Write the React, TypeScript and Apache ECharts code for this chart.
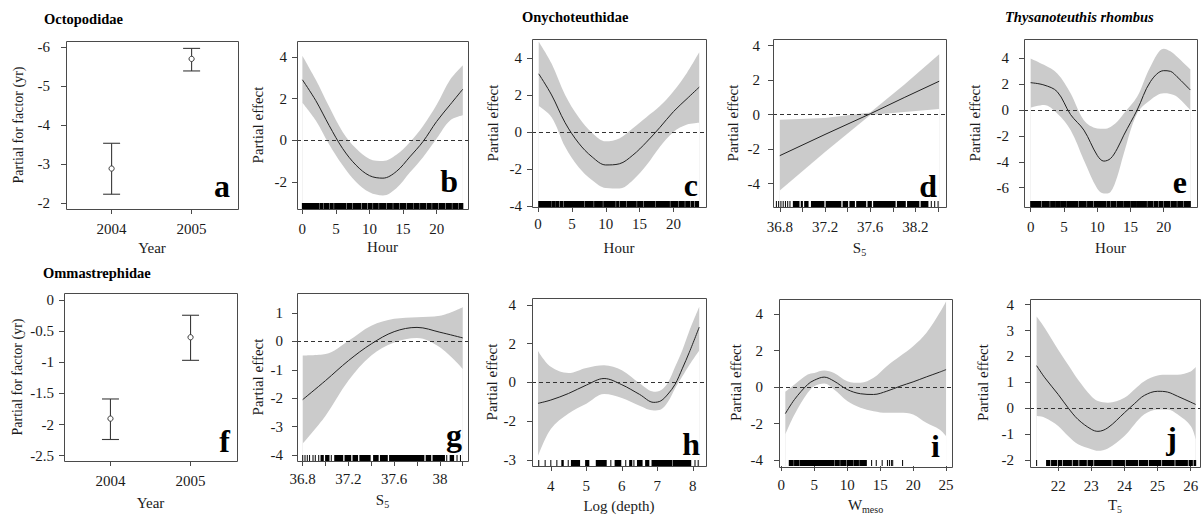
import React, { useEffect, useRef } from 'react';
import * as echarts from 'echarts';

// ---------- DATA ----------
// a: Octopodidae, year factor
const yearsA = [2004, 2005];
const fitA = [-2.88, -5.7];
const loA = [-2.22, -5.39];
const hiA = [-3.53, -5.97];

// f: Ommastrephidae, year factor
const yearsF = [2004, 2005];
const fitF = [-1.905, -0.6];
const loF = [-2.24, -0.97];
const hiF = [-1.59, -0.247];

// b: Octopodidae, hour
const xB = [0, 2, 4, 6, 8, 10, 12, 14, 16, 18, 20, 22, 23.9];
const fitB = [2.9, 1.9, 0.7, -0.4, -1.2, -1.7, -1.82, -1.5, -0.8, -0.05, 0.9, 1.7, 2.45];
const upB = [4.05, 2.9, 1.6, 0.4, -0.4, -0.9, -1.0, -0.7, -0.1, 0.7, 1.7, 2.9, 3.6];
const lowB = [1.8, 0.95, -0.2, -1.2, -2.0, -2.5, -2.65, -2.3, -1.55, -0.8, 0.08, 0.95, 1.2];
const rugB = [[0, 2.4], [2.6, 3.0], [3.2, 3.9], [4.1, 4.6], [4.8, 6.5], [6.7, 7.4], [7.6, 8.7], [8.9, 9.6], [9.8, 10.4], [10.6, 11.3], [11.5, 12.4], [12.6, 13.4], [13.6, 14.4], [14.6, 15.4], [15.6, 16.4], [16.6, 17.4], [17.6, 18.4], [18.6, 19.2], [19.4, 20.2], [20.4, 21.2], [21.4, 22.2], [22.4, 23.2], [23.4, 23.9]];

// c: Onychoteuthidae, hour
const xC = [0.1, 2, 4, 6, 8, 10, 12, 14, 16, 18, 20, 22, 23.8];
const fitC = [3.14, 2.0, 0.5, -0.6, -1.35, -1.78, -1.72, -1.25, -0.55, 0.25, 1.1, 1.8, 2.42];
const upC = [4.87, 3.7, 2.0, 0.8, -0.05, -0.5, -0.35, 0.2, 0.8, 1.4, 2.2, 3.2, 4.3];
const lowC = [1.4, 0.8, -0.8, -1.9, -2.6, -3.02, -3.05, -2.6, -1.8, -0.8, 0.0, 0.4, 0.5];
const rugC = [[0.1, 1.25], [1.4, 1.9], [2.05, 2.55], [2.7, 3.1], [3.3, 3.7], [3.9, 4.35], [4.5, 6.8], [7.0, 8.15], [8.35, 9.5], [9.7, 11.4], [11.6, 11.9], [12.1, 13.0], [13.2, 14.5], [14.7, 15.5], [15.7, 17.2], [17.4, 19.4], [19.6, 20.6], [20.8, 21.6], [21.8, 22.4], [22.6, 23.0], [23.2, 23.7]];

// d: Onychoteuthidae, S5
const xD = [36.8, 37.2, 37.6, 37.9, 38.21];
const fitD = [-2.38, -1.15, 0.05, 0.99, 1.94];
const upD = [-0.3, -0.2, 0.12, 1.73, 3.5];
const lowD = [-4.4, -2.17, -0.02, 0.16, 0.33];
const rugD = [[36.77, 36.77], [36.79, 36.79], [36.81, 36.81], [36.83, 36.83], [36.85, 36.85], [36.87, 36.87], [36.89, 36.89], [36.92, 36.97], [36.99, 37.0], [37.02, 37.05], [37.08, 37.19], [37.21, 37.34], [37.36, 37.4], [37.42, 37.46], [37.48, 37.56], [37.58, 37.61], [37.63, 37.82], [37.84, 37.91], [37.93, 38.03], [38.05, 38.11], [38.14, 38.14], [38.17, 38.17], [38.2, 38.2]];

// e: Thysanoteuthis rhombus, hour
const xE = [0, 2, 4, 6, 8, 10, 11, 12, 13, 14, 16, 18, 20, 21, 22, 24];
const fitE = [2.12, 1.94, 1.42, -0.35, -1.55, -3.5, -3.95, -3.75, -3.0, -1.94, 0.0, 2.2, 3.05, 3.0, 2.58, 1.55];
const upE = [4.0, 3.5, 2.84, 1.3, -0.78, -1.42, -1.45, -1.3, -0.9, -0.26, 1.03, 3.36, 4.75, 4.55, 4.13, 3.15];
const lowE = [0.2, 0.4, -0.26, -1.55, -3.88, -6.07, -6.46, -6.33, -5.17, -3.36, -0.26, 0.78, 1.3, 1.25, 1.03, 0.0];
const rugE = [[0, 1.55], [1.75, 2.8], [3.0, 3.6], [3.75, 4.35], [4.5, 5.35], [5.5, 7.1], [7.3, 8.35], [8.55, 9.35], [9.55, 11.35], [11.55, 11.85], [12.05, 12.85], [13.05, 13.9], [14.05, 14.9], [15.05, 15.9], [16.05, 17.4], [17.6, 18.4], [18.6, 19.15], [19.35, 19.9], [20.1, 20.9], [21.1, 21.9], [22.1, 22.9], [23.1, 24.0]];

// g: Ommastrephidae, S5
const xG = [36.8, 37.0, 37.2, 37.4, 37.6, 37.8, 38.0, 38.2];
const fitG = [-2.05, -1.38, -0.68, -0.09, 0.34, 0.49, 0.32, 0.12];
const upG = [-0.5, -0.45, 0.02, 0.55, 0.79, 0.85, 0.9, 1.2];
const lowG = [-3.6, -2.62, -1.38, -0.5, -0.04, 0.12, -0.21, -0.97];
const rugG = [[36.8, 36.8], [36.82, 36.82], [36.84, 36.84], [36.86, 36.86], [36.89, 36.89], [36.91, 36.91], [36.94, 36.94], [36.96, 36.98], [37.0, 37.03], [37.05, 37.05], [37.08, 37.15], [37.17, 37.22], [37.24, 37.28], [37.3, 37.39], [37.42, 37.46], [37.48, 37.54], [37.56, 37.86], [37.88, 37.92], [37.94, 38.04], [38.06, 38.06], [38.09, 38.12], [38.15, 38.15], [38.18, 38.18]];

// h: Ommastrephidae, log(depth)
const xH = [3.64, 4.0, 4.5, 5.0, 5.5, 6.0, 6.5, 6.9, 7.1, 7.3, 7.5, 7.7, 7.9, 8.18];
const fitH = [-1.08, -0.91, -0.57, -0.14, 0.2, -0.12, -0.62, -1.03, -0.95, -0.6, -0.1, 0.7, 1.55, 2.85];
const upH = [1.62, 0.8, 0.48, 0.74, 0.88, 0.62, -0.05, -0.48, -0.4, 0.0, 0.8, 1.65, 2.65, 3.9];
const lowH = [-3.8, -2.4, -1.6, -1.1, -0.6, -0.8, -1.2, -1.45, -1.4, -1.0, -0.3, 0.3, 0.9, 1.65];
const rugH = [[3.66, 3.66], [3.84, 3.84], [4.0, 4.0], [4.17, 4.17], [4.31, 4.35], [4.49, 4.49], [4.58, 4.81], [4.98, 5.07], [5.28, 5.56], [5.69, 5.69], [5.81, 5.97], [6.11, 6.11], [6.22, 6.28], [6.34, 6.34], [6.44, 6.57], [6.67, 6.76], [6.85, 7.41], [7.45, 7.94], [8.06, 8.06], [8.15, 8.15]];

// i: Ommastrephidae, W_meso
const xI = [0.6, 2, 4, 5, 6.5, 8, 10, 12, 14, 16, 18, 20, 22, 24, 25];
const fitI = [-1.45, -0.67, 0.15, 0.38, 0.55, 0.33, -0.13, -0.36, -0.4, -0.22, 0.05, 0.29, 0.56, 0.82, 0.96];
const upI = [-0.25, 0.15, 0.69, 0.78, 0.91, 0.78, 0.33, 0.24, 0.51, 1.15, 1.69, 2.24, 2.96, 4.05, 4.69];
const lowI = [-2.58, -1.49, -0.31, 0.05, 0.2, -0.13, -0.76, -1.13, -1.31, -1.4, -1.4, -1.49, -1.95, -2.31, -2.67];
const rugI = [[1.2, 1.8], [2.0, 2.7], [2.9, 8.0], [8.2, 8.8], [9.0, 9.8], [10.0, 10.9], [11.1, 11.7], [11.9, 12.9], [13.7, 13.7], [14.4, 14.4], [15.3, 15.3], [16.1, 16.1], [16.4, 16.4], [16.7, 16.7], [16.9, 16.9], [18.4, 18.4]];

// j: Ommastrephidae, T5
const xJ = [21.35, 21.6, 22.0, 22.3, 22.6, 23.0, 23.2, 23.5, 24.0, 24.3, 24.6, 25.0, 25.3, 25.6, 26.0, 26.15];
const fitJ = [1.64, 1.17, 0.53, 0.01, -0.44, -0.82, -0.9, -0.76, -0.18, 0.17, 0.49, 0.65, 0.62, 0.46, 0.23, 0.14];
const upJ = [3.54, 3.09, 2.26, 1.68, 1.1, 0.46, 0.27, 0.21, 0.4, 0.72, 1.04, 1.26, 1.29, 1.29, 1.42, 1.59];
const lowJ = [-0.31, -0.37, -0.69, -1.08, -1.4, -1.59, -1.65, -1.56, -1.08, -0.63, -0.24, -0.05, -0.05, -0.24, -0.69, -1.21];
const rugJ = [[21.35, 21.35], [21.65, 21.75], [21.8, 21.95], [22.0, 22.1], [22.15, 22.4], [22.45, 22.6], [22.65, 22.85], [22.9, 23.05], [23.1, 23.6], [23.65, 24.0], [24.05, 24.4], [24.45, 24.7], [24.75, 25.1], [25.15, 25.5], [25.55, 25.9], [25.95, 26.05], [26.1, 26.15]];

// tick values / labels
const hourTicks = [0, 5, 10, 15, 20];
const yearTicks = [2004, 2005];
const salTicks = [36.8, 37.0, 37.2, 37.4, 37.6, 37.8, 38.0, 38.2];
const salLabelVals = [36.8, 37.2, 37.6, 38.0];
const salLabelsD = ['36.8', '37.2', '37.6', '38.2'];
const salLabelsG = ['36.8', '37.2', '37.6', '38'];
const depthTicks = [4, 5, 6, 7, 8];
const wTicks = [0, 5, 10, 15, 20, 25];
const tTicks = [22, 23, 24, 25, 26];
const yTicksA = [-6, -5, -4, -3, -2];
const yTicksF = [-2.5, -2, -1.5, -1, -0.5, 0];
const yTicksB = [-2, 0, 2, 4];
const yTicks4 = [-4, -2, 0, 2, 4];
const yTicksE = [-6, -4, -2, 0, 2, 4];
const yTicksG = [-4, -3, -2, -1, 0, 1];
const yLabelsH = ['-3', '-2', '0', '2', '4'];
const yTicksJ = [-2, -1, 0, 1, 2, 3, 4];

// ---------- STYLE ----------
const FONT = 'Liberation Serif';
const INK = '#1a1a1a';
const BAND = '#cbcbcb';
const BOX = '#4a4a4a';

const rich = {
  s: { fontFamily: FONT, fontSize: 15, color: INK },
  sub: { fontFamily: FONT, fontSize: 10, color: INK, padding: [9, 0, 0, 0] },
};

const panels: any[] = [
  { key: 'a', grid: [66, 41, 172, 168], x: [2003.43, 2005.58], y: [-6.16, -1.84], inverse: true, xt: yearTicks, yt: yTicksA, xName: 'Year', xGap: 31, yName: 'Partial for factor (yr)', yGap: 41, yNameSize: 14, yMargin: 16, xMargin: 12, kind: 'err', xs: yearsA, fit: fitA, lo: loA, hi: hiA, letter: [230, 202] },
  { key: 'b', grid: [297, 41, 171, 168], x: [-0.8, 24.67], y: [-3.3, 4.76], xt: hourTicks, yt: yTicksB, xName: 'Hour', xGap: 30, yName: 'Partial effect', yGap: 32, yMargin: 10, xMargin: 12, kind: 'gam', xs: xB, fit: fitB, lo: lowB, hi: upB, rug: rugB, letter: [458, 197] },
  { key: 'c', grid: [532, 39, 174, 168], x: [-0.89, 24.8], y: [-4.05, 5.02], xt: hourTicks, yt: yTicks4, xName: 'Hour', xGap: 33, yName: 'Partial effect', yGap: 32, yMargin: 10, xMargin: 9, kind: 'gam', xs: xC, fit: fitC, lo: lowC, hi: upC, rug: rugC, letter: [698, 201] },
  { key: 'd', grid: [773, 39, 173, 168], x: [36.74, 38.27], y: [-5.36, 4.39], xt: salTicks, xlv: salLabelVals, xl: salLabelsD, yt: yTicks4, xName: '{s|S}{sub|5}', xGap: 31, yName: 'Partial effect', yGap: 33, yMargin: 13, xMargin: 12, kind: 'gam', straight: true, xs: xD, fit: fitD, lo: lowD, hi: upD, rug: rugD, letter: [937, 202] },
  { key: 'e', grid: [1024, 39, 173, 168], x: [-1.0, 25.0], y: [-7.5, 5.5], xt: hourTicks, yt: yTicksE, xName: 'Hour', xGap: 33, yName: 'Partial effect', yGap: 42, yMargin: 15, xMargin: 12, kind: 'gam', xs: xE, fit: fitE, lo: lowE, hi: upE, rug: rugE, letter: [1187, 198] },
  { key: 'f', grid: [64, 293, 173, 168], x: [2003.42, 2005.58], y: [-2.585, 0.11], xt: yearTicks, yt: yTicksF, xName: 'Year', xGap: 34, yName: 'Partial for factor (yr)', yGap: 40, yNameSize: 14, yMargin: 10, xMargin: 12, kind: 'err', xs: yearsF, fit: fitF, lo: loF, hi: hiF, letter: [230, 457] },
  { key: 'g', grid: [297, 293, 171, 168], x: [36.75, 38.246], y: [-4.21, 1.7], xt: salTicks, xlv: salLabelVals, xl: salLabelsG, yt: yTicksG, xName: '{s|S}{sub|5}', xGap: 29, yName: 'Partial effect', yGap: 32, yMargin: 14, xMargin: 10, kind: 'gam', xs: xG, fit: fitG, lo: lowG, hi: upG, rug: rugG, letter: [462, 451] },
  { key: 'h', grid: [532, 298, 174, 168], x: [3.47, 8.37], y: [-4.31, 4.35], xt: depthTicks, yt: yTicks4, yl: yLabelsH, xName: 'Log (depth)', xGap: 32, yName: 'Partial effect', yGap: 33, yMargin: 16, xMargin: 12, kind: 'gam', xs: xH, fit: fitH, lo: lowH, hi: upH, rug: rugH, letter: [700, 460] },
  { key: 'i', grid: [779, 299, 173, 168], x: [-0.36, 25.9], y: [-4.31, 4.82], xt: wTicks, yt: yTicks4, xName: '{s|W}{sub|meso}', xGap: 29, yName: 'Partial effect', yGap: 36, yMargin: 16, xMargin: 11, kind: 'gam', xs: xI, fit: fitI, lo: lowI, hi: upI, rug: rugI, letter: [940, 462] },
  { key: 'j', grid: [1030, 299, 170, 168], x: [21.15, 26.28], y: [-2.24, 4.22], xt: tTicks, yt: yTicksJ, xName: '{s|T}{sub|5}', xGap: 29, yName: 'Partial effect', yGap: 40, yMargin: 16, xMargin: 12, kind: 'gam', xs: xJ, fit: fitJ, lo: lowJ, hi: upJ, rug: rugJ, letter: [1177, 454] },
];

const titles = [
  { text: 'Octopodidae', x: 44, y: 19, italic: false },
  { text: 'Onychoteuthidae', x: 522, y: 17, italic: false },
  { text: 'Thysanoteuthis rhombus', x: 1005, y: 17, italic: true },
  { text: 'Ommastrephidae', x: 43, y: 273, italic: false },
];

function pickLabel(vals: number[], labels: string[] | undefined, v: number) {
  if (!labels) return String(v);
  for (let k = 0; k < vals.length; k++) if (Math.abs(vals[k] - v) < 1e-9) return labels[k];
  return '';
}

function buildOption() {
  const grid: any[] = [];
  const xAxis: any[] = [];
  const yAxis: any[] = [];
  const series: any[] = [];
  const graphic: any[] = [];

  panels.forEach((p, i) => {
    grid.push({ left: p.grid[0], top: p.grid[1], width: p.grid[2], height: p.grid[3], show: false, containLabel: false });
    const xlv = p.xlv || p.xt;
    xAxis.push({
      type: 'value', gridIndex: i, min: p.x[0], max: p.x[1],
      axisLine: { show: false, onZero: false }, splitLine: { show: false },
      axisTick: { show: true, inside: false, length: 5, customValues: p.xt, lineStyle: { color: BOX, width: 1 } },
      axisLabel: { show: true, customValues: xlv, formatter: (v: number) => pickLabel(xlv, p.xl, v), margin: p.xMargin, fontFamily: FONT, fontSize: 15, color: INK },
      name: p.xName, nameLocation: 'middle', nameGap: p.xGap,
      nameTextStyle: { fontFamily: FONT, fontSize: 15, color: INK, rich },
    });
    yAxis.push({
      type: 'value', gridIndex: i, min: p.y[0], max: p.y[1], inverse: !!p.inverse,
      axisLine: { show: false, onZero: false }, splitLine: { show: false },
      axisTick: { show: true, inside: false, length: 5, customValues: p.yt, lineStyle: { color: BOX, width: 1 } },
      axisLabel: { show: true, customValues: p.yt, formatter: (v: number) => pickLabel(p.yt, p.yl, v), margin: p.yMargin, fontFamily: FONT, fontSize: 15, color: INK },
      name: p.yName, nameLocation: 'middle', nameGap: p.yGap,
      nameTextStyle: { fontFamily: FONT, fontSize: p.yNameSize || 15, color: INK },
    });

    if (p.kind === 'err') {
      series.push({
        type: 'custom', xAxisIndex: i, yAxisIndex: i, z: 5,
        data: p.xs.map((x: number, k: number) => [x, p.fit[k], p.lo[k], p.hi[k]]),
        encode: { x: 0, y: [1, 2, 3] },
        renderItem: (params: any, api: any) => {
          const x = api.value(0);
          const pc = api.coord([x, api.value(1)]);
          const pl = api.coord([x, api.value(2)]);
          const ph = api.coord([x, api.value(3)]);
          const cap = 8.5;
          const st = { stroke: '#3a3a3a', lineWidth: 1.1 };
          return {
            type: 'group', children: [
              { type: 'line', shape: { x1: pl[0], y1: pl[1], x2: ph[0], y2: ph[1] }, style: st },
              { type: 'line', shape: { x1: pl[0] - cap, y1: pl[1], x2: pl[0] + cap, y2: pl[1] }, style: st },
              { type: 'line', shape: { x1: ph[0] - cap, y1: ph[1], x2: ph[0] + cap, y2: ph[1] }, style: st },
              { type: 'circle', shape: { cx: pc[0], cy: pc[1], r: 2.6 }, style: { fill: '#fff', stroke: '#3a3a3a', lineWidth: 1 } },
            ],
          };
        },
      });
    } else {
      const sm = p.straight ? false : 0.35;
      // upper confidence limit, filled grey down to the axis start
      series.push({
        type: 'line', xAxisIndex: i, yAxisIndex: i, z: 1,
        data: p.xs.map((x: number, k: number) => [x, p.hi[k]]),
        smooth: sm, symbol: 'none', lineStyle: { width: 0, opacity: 0 },
        areaStyle: { color: BAND, opacity: 1, origin: 'start' }, silent: true,
      });
      // lower confidence limit, filled white down to the axis start
      series.push({
        type: 'line', xAxisIndex: i, yAxisIndex: i, z: 1,
        data: p.xs.map((x: number, k: number) => [x, p.lo[k]]),
        smooth: sm, symbol: 'none', lineStyle: { width: 0, opacity: 0 },
        areaStyle: { color: '#ffffff', opacity: 1, origin: 'start' }, silent: true,
      });
      const yBase = p.y[0];
      series.push({
        type: 'custom', xAxisIndex: i, yAxisIndex: i, z: 3,
        data: p.rug,
        encode: { x: [0, 1] },
        renderItem: (params: any, api: any) => {
          const a = api.coord([api.value(0), yBase]);
          const b = api.coord([api.value(1), yBase]);
          return { type: 'rect', shape: { x: a[0] - 0.5, y: a[1] - 6, width: Math.max(1, b[0] - a[0] + 1), height: 6 }, style: { fill: '#000' } };
        },
      });
      series.push({
        type: 'line', xAxisIndex: i, yAxisIndex: i, z: 4,
        data: p.xs.map((x: number, k: number) => [x, p.fit[k]]),
        smooth: sm, symbol: 'none', lineStyle: { color: '#222', width: 1 },
        markLine: {
          silent: true, symbol: ['none', 'none'], label: { show: false },
          lineStyle: { color: '#333', type: [4, 3], width: 1 },
          data: [{ yAxis: 0 }],
        },
      });
    }

    // plot box
    graphic.push({
      type: 'rect', z: 50, silent: true,
      shape: { x: p.grid[0] + 0.5, y: p.grid[1] + 0.5, width: p.grid[2], height: p.grid[3] },
      style: { fill: 'none', stroke: BOX, lineWidth: 1 },
    });
    // panel letter
    graphic.push({
      type: 'text', x: p.letter[0], y: p.letter[1], z: 60,
      style: { text: p.key, fontFamily: FONT, fontSize: 32, fontWeight: 'bold', fill: '#000', align: 'right', verticalAlign: 'bottom' },
    });
  });

  titles.forEach((t) => {
    graphic.push({
      type: 'text', x: t.x, y: t.y, z: 60,
      style: { text: t.text, fontFamily: FONT, fontSize: 14.5, fontWeight: 'bold', fontStyle: t.italic ? 'italic' : 'normal', fill: '#000', align: 'left', verticalAlign: 'middle' },
    });
  });

  return { animation: false, backgroundColor: '#fff', grid, xAxis, yAxis, series, graphic };
}

export default function App() {
  const ref = useRef<HTMLDivElement>(null);
  useEffect(() => {
    const chart = echarts.init(ref.current!, null, { renderer: 'svg' });
    chart.setOption(buildOption() as any);
    return () => chart.dispose();
  }, []);
  return <div ref={ref} style={{ position: 'absolute', left: 0, top: 0, width: 1203, height: 515, background: '#fff' }} />;
}
